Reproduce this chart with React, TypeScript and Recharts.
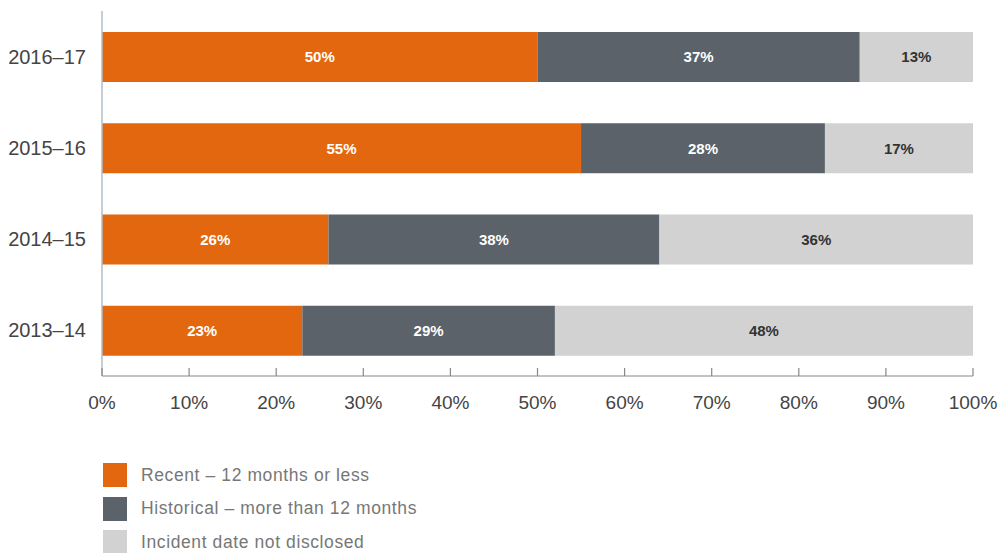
import { BarChart, Bar, XAxis, YAxis, LabelList } from "recharts";

const years = ["2016–17", "2015–16", "2014–15", "2013–14"];
const recent = [50, 55, 26, 23];
const historical = [37, 28, 38, 29];
const undisclosed = [13, 17, 36, 48];
const xTicks = [0, 10, 20, 30, 40, 50, 60, 70, 80, 90, 100];

const series = [
  { key: "recent", name: "Recent – 12 months or less", color: "#E3670F", label: "#ffffff" },
  { key: "historical", name: "Historical – more than 12 months", color: "#5B626A", label: "#ffffff" },
  { key: "undisclosed", name: "Incident date not disclosed", color: "#D2D2D2", label: "#333333" },
];

const data = years.map((year, i) => ({
  year,
  recent: recent[i],
  historical: historical[i],
  undisclosed: undisclosed[i],
}));

const FONT = "'Liberation Sans', Arial, sans-serif";

const XTick = (props: any) => {
  const { x, y, payload } = props;
  return (
    <g>
      <line x1={x} x2={x} y1={y - 8} y2={y} stroke="#888" strokeWidth={1.2} />
      <text x={x} y={y + 33} textAnchor="middle" fill="#444" fontSize={19} fontFamily={FONT}>
        {payload.value}%
      </text>
    </g>
  );
};

export default function App() {
  return (
    <div style={{ position: "absolute", left: 0, top: 0, width: 1003, height: 553, background: "#fff" }}>
      <BarChart
        width={1003}
        height={553}
        data={data}
        layout="vertical"
        margin={{ top: 11, right: 30, bottom: 137, left: 0 }}
        barSize={50}
      >
        <XAxis
          type="number"
          domain={[0, 100]}
          ticks={xTicks}
          interval={0}
          tickLine={false}
          tickSize={0}
          tickMargin={0}
          axisLine={{ stroke: "#888", strokeWidth: 1.2 }}
          tick={XTick}
          height={40}
        />
        <YAxis
          type="category"
          dataKey="year"
          width={102}
          tickLine={false}
          axisLine={{ stroke: "#B4BCC6", strokeWidth: 1.5 }}
          tick={{ fill: "#444", fontSize: 20, fontFamily: FONT }}
          tickMargin={10}
        />
        {series.map((s) => (
          <Bar key={s.key} dataKey={s.key} name={s.name} stackId="a" fill={s.color} isAnimationActive={false}>
            <LabelList
              dataKey={s.key}
              position="center"
              formatter={(v: any) => `${v}%`}
              fill={s.label}
              fontSize={15}
              fontWeight="bold"
              fontFamily={FONT}
            />
          </Bar>
        ))}
      </BarChart>
      <div style={{ position: "absolute", left: 103, top: 463, fontFamily: FONT }}>
        {series.map((s) => (
          <div key={s.key} style={{ display: "flex", alignItems: "center", height: 24, marginBottom: 9.5 }}>
            <div style={{ width: 24, height: 24, background: s.color, marginRight: 14 }} />
            <span style={{ fontSize: 17.5, color: "#777", letterSpacing: 0.6 }}>{s.name}</span>
          </div>
        ))}
      </div>
    </div>
  );
}
